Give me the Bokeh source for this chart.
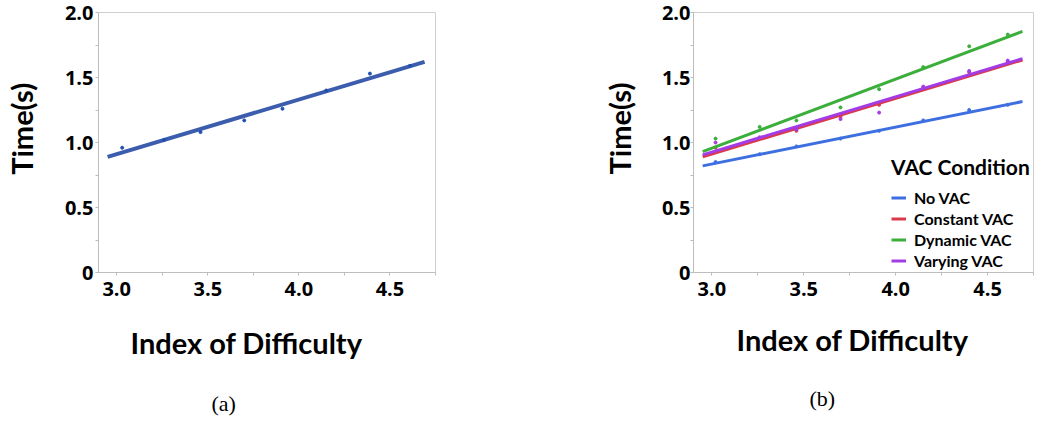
from bokeh.plotting import figure
from bokeh.layouts import row
from bokeh.models import Range1d, FixedTicker, Title, Legend, LegendItem
from bokeh.embed import file_html
from bokeh.resources import INLINE

# ---------------- data ----------------
# (a) all conditions pooled
id_a = [3.03, 3.26, 3.46, 3.70, 3.91, 4.15, 4.39, 4.61]
time_a = [0.96, 1.02, 1.08, 1.17, 1.26, 1.40, 1.53, 1.59]
fit_x = [2.95, 4.69]
fit_a = [0.89, 1.62]

# (b) by VAC condition
id_b = [3.02, 3.26, 3.46, 3.70, 3.91, 4.15, 4.40, 4.61]
conditions = ["No VAC", "Constant VAC", "Dynamic VAC", "Varying VAC"]
time_no = [0.85, 0.91, 0.97, 1.03, 1.09, 1.17, 1.25, 1.29]
time_constant = [0.96, 1.03, 1.09, 1.20, 1.29, 1.42, 1.54, 1.62]
time_dynamic = [1.03, 1.12, 1.17, 1.27, 1.41, 1.58, 1.74, 1.83]
time_varying = [1.00, 1.04, 1.10, 1.18, 1.23, 1.43, 1.55, 1.63]
fit_no = [0.82, 1.315]
fit_constant = [0.89, 1.635]
fit_dynamic = [0.93, 1.855]
fit_varying = [0.905, 1.645]

x_ticks = [3.0, 3.5, 4.0, 4.5]
x_minor = [3.25, 3.75, 4.25, 4.75]
y_ticks = [0, 0.5, 1.0, 1.5, 2.0]
y_minor = [0.25, 0.75, 1.25, 1.75]
y_labels = {0: "0", 0.5: "0.5", 1: "1.0", 1.5: "1.5", 2: "2.0"}
x_labels = {3: "3.0", 3.5: "3.5", 4: "4.0", 4.5: "4.5"}
x_title = "Index of Difficulty"
y_title = "Time(s)"

colors = ["#3D6FE0", "#DB3A4B", "#3CAE3C", "#A23CE6"]

TICK_FONT = "Open Sans"
TITLE_FONT = "Lato"


def base_fig(width, left, right, top, bottom, ylab_std):
    p = figure(width=width, height=421, output_backend="svg", toolbar_location=None,
               x_range=Range1d(2.9, 4.75), y_range=Range1d(0, 2.0),
               min_border_left=left, min_border_right=right,
               min_border_top=top, min_border_bottom=bottom)
    p.grid.visible = False
    p.outline_line_color = "#cfcfcf"
    p.background_fill_color = "white"
    p.border_fill_color = "white"
    p.xaxis.ticker = FixedTicker(ticks=x_ticks, minor_ticks=x_minor)
    p.yaxis.ticker = FixedTicker(ticks=y_ticks, minor_ticks=y_minor)
    p.xaxis.major_label_overrides = x_labels
    p.yaxis.major_label_overrides = y_labels
    for ax in (p.xaxis[0], p.yaxis[0]):
        ax.axis_line_color = "#bdbdbd"
        ax.major_tick_line_color = "#bdbdbd"
        ax.minor_tick_line_color = "#bdbdbd"
        ax.major_tick_in = 0
        ax.major_tick_out = 3
        ax.minor_tick_in = 0
        ax.minor_tick_out = 3
        ax.major_label_text_font = TICK_FONT
        ax.major_label_text_font_style = "bold"
        ax.major_label_text_font_size = "20px"
        ax.major_label_text_color = "black"
    p.xaxis.major_label_standoff = 6
    p.yaxis.major_label_standoff = ylab_std
    return p


def add_below(p, xlab_off, xlab_std, cap, cap_off, cap_std):
    t2 = Title(text=x_title, text_font=TITLE_FONT, text_font_style="bold",
               text_font_size="29px", text_color="black", align="left",
               offset=xlab_off, standoff=xlab_std)
    p.add_layout(t2, "below")
    t3 = Title(text=cap, text_font="Liberation Serif", text_font_style="normal",
               text_font_size="22px", text_color="black", align="left",
               offset=cap_off, standoff=cap_std)
    p.add_layout(t3, "below")


# ---------------- (a) ----------------
p1 = base_fig(518, 97, 83, 7, 148, 2)
p1.line(fit_x, fit_a, line_color="#3C5DAE", line_width=4)
p1.scatter(id_a, time_a, size=3, color="#1F4FB0")
p1.yaxis.axis_label = "\u00a0\u00a0\u00a0\u00a0" + y_title
p1.yaxis.axis_label_standoff = 23
p1.yaxis.axis_label_text_font = TITLE_FONT
p1.yaxis.axis_label_text_font_style = "bold"
p1.yaxis.axis_label_text_font_size = "29px"
p1.yaxis.axis_label_text_color = "black"
add_below(p1, 32, 48, "(a)", 113, 11)

# ---------------- (b) ----------------
p2 = base_fig(519, 175, 4, 12, 143, 0)
series = [time_no, time_constant, time_dynamic, time_varying]
fits = [fit_no, fit_constant, fit_dynamic, fit_varying]
items = []
for name, ys, fy, c in zip(conditions, series, fits, colors):
    r = p2.line(fit_x, fy, line_color=c, line_width=3)
    p2.scatter(id_b, ys, size=3, color=c)
    items.append(LegendItem(label=name, renderers=[r]))

legend = Legend(items=items, location=(198, 1), title="VAC Condition",
                title_text_font=TITLE_FONT, title_text_font_style="bold",
                title_text_font_size="21px", title_text_color="black", title_standoff=8,
                label_text_font=TITLE_FONT, label_text_font_style="bold",
                label_text_font_size="16px", label_text_color="black",
                glyph_width=15, glyph_height=21,
                label_height=21, label_standoff=8, spacing=0, padding=0, margin=0,
                background_fill_alpha=0, border_line_alpha=0)
p2.add_layout(legend, "center")
p2.add_layout(Title(text=y_title, text_font=TITLE_FONT, text_font_style="bold",
                    text_font_size="29px", text_color="black", align="left",
                    text_line_height=0.5, offset=98, standoff=44), "left")
add_below(p2, 43, 43, "(b)", 116, 11)

layout = row(p1, p2)
open("out.html", "w").write(file_html(layout, INLINE))
